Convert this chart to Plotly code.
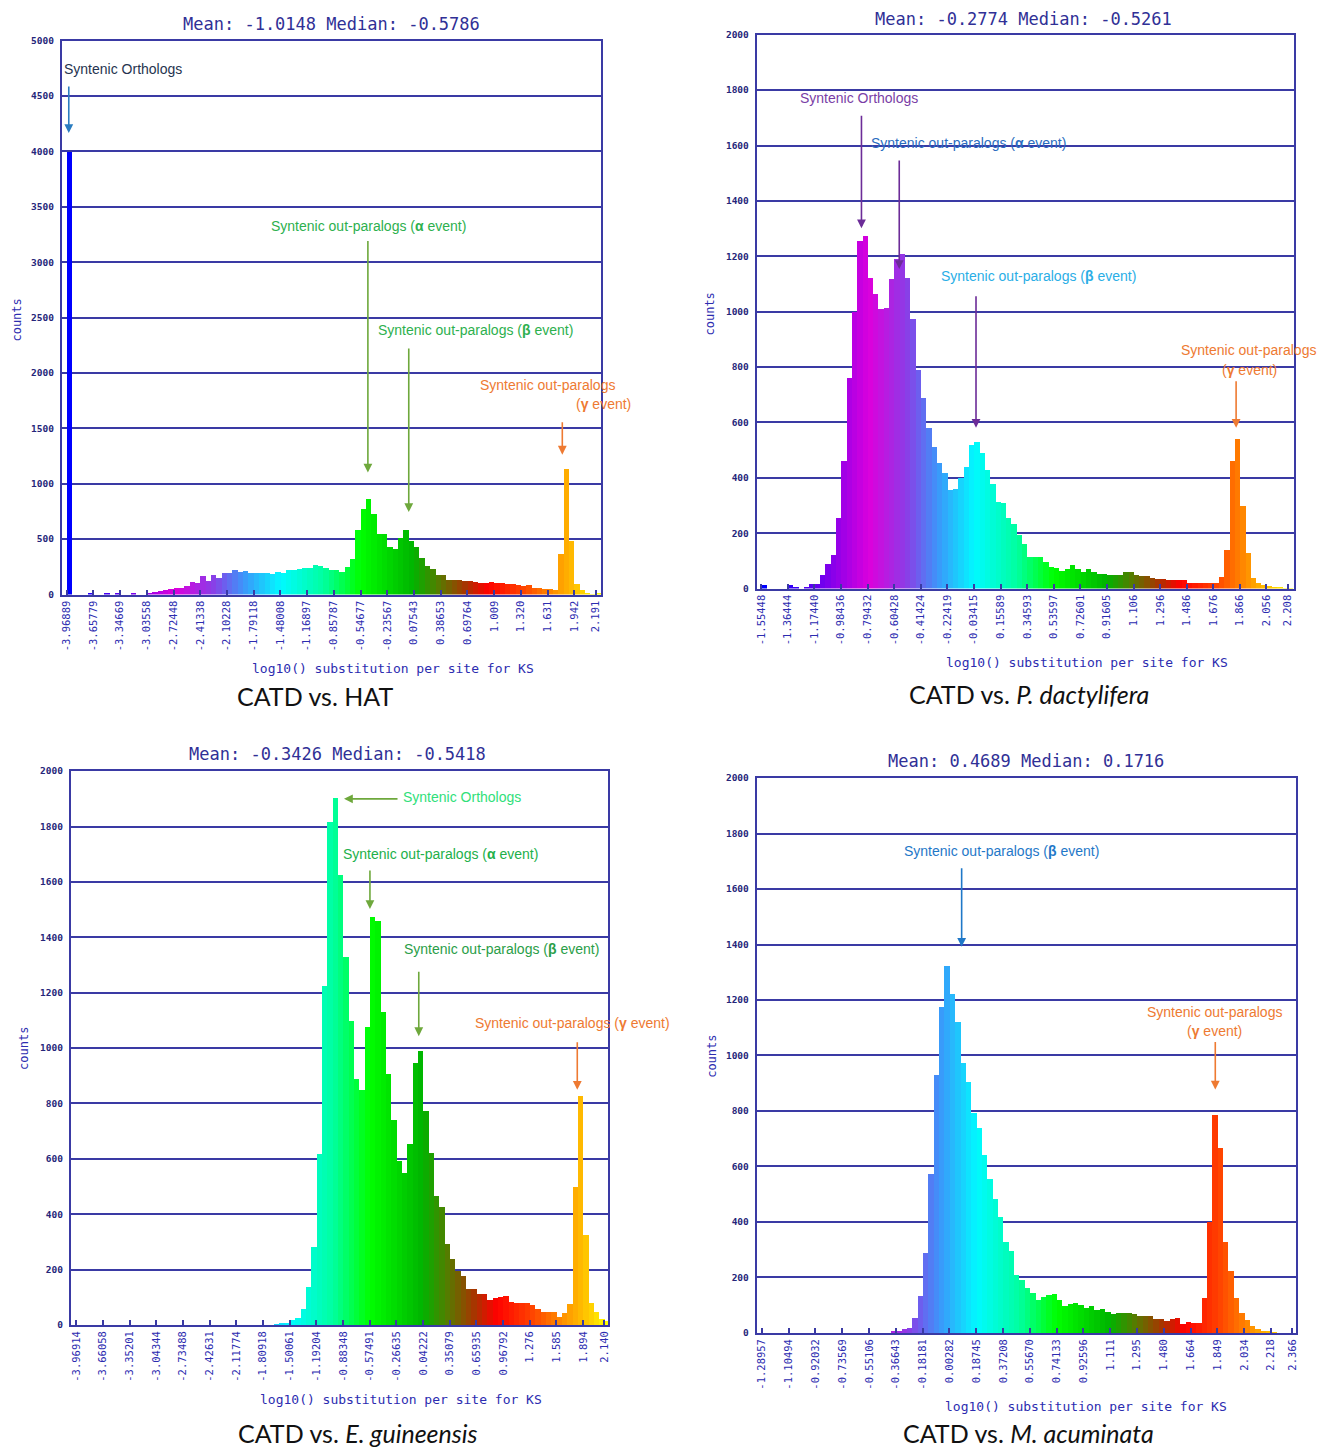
import plotly.graph_objects as go

# ------------------------------------------------------------------ data
ticks_hat = ["-3.96889", "-3.65779", "-3.34669", "-3.03558", "-2.72448", "-2.41338", "-2.10228",
             "-1.79118", "-1.48008", "-1.16897", "-0.85787", "-0.54677", "-0.23567", "0.07543",
             "0.38653", "0.69764", "1.009", "1.320", "1.631", "1.942", "2.191"]
counts_hat = [4000, 0, 0, 0, 10, 0, 0, 8, 0, 8,
              0, 0, 8, 0, 0, 15, 25, 35, 45, 50,
              59, 65, 80, 115, 110, 172, 125, 180, 155, 193,
              200, 228, 205, 215, 200, 199, 199, 195, 184, 205,
              195, 228, 228, 237, 243, 246, 273, 258, 243, 223,
              223, 210, 255, 325, 585, 778, 866, 727, 549, 549,
              430, 415, 513, 585, 490, 430, 332, 261, 231, 178,
              178, 134, 134, 134, 128, 120, 113, 110, 110, 118,
              105, 110, 100, 95, 89, 80, 85, 65, 62, 50,
              50, 40, 370, 1140, 490, 100, 39, 10, 2, 12]

ticks_pd = ["-1.55448", "-1.36444", "-1.17440", "-0.98436", "-0.79432", "-0.60428", "-0.41424",
            "-0.22419", "-0.03415", "0.15589", "0.34593", "0.53597", "0.72601", "0.91605",
            "1.106", "1.296", "1.486", "1.676", "1.866", "2.056", "2.208"]
counts_pd = [12, 0, 0, 0, 0, 12, 4, 0, 4, 17,
             17, 51, 90, 123, 257, 460, 760, 1000, 1256, 1275,
             1121, 1064, 1012, 1015, 1117, 1192, 1209, 1121, 974, 791,
             688, 579, 513, 454, 418, 355, 360, 400, 440, 520,
             530, 490, 430, 380, 315, 310, 255, 235, 195, 160,
             115, 115, 115, 95, 80, 75, 65, 70, 85, 70,
             60, 70, 60, 55, 55, 50, 50, 50, 60, 60,
             50, 45, 45, 40, 35, 35, 30, 30, 30, 30,
             20, 20, 20, 20, 20, 20, 42, 141, 460, 540,
             300, 131, 38, 21, 14, 10, 6, 3, 1, 1]

ticks_eg = ["-3.96914", "-3.66058", "-3.35201", "-3.04344", "-2.73488", "-2.42631", "-2.11774",
            "-1.80918", "-1.50061", "-1.19204", "-0.88348", "-0.57491", "-0.26635", "0.04222",
            "0.35079", "0.65935", "0.96792", "1.276", "1.585", "1.894", "2.140"]
counts_eg = [0, 0, 0, 0, 0, 0, 0, 0, 0, 0,
             0, 0, 0, 0, 0, 0, 0, 0, 0, 0,
             0, 0, 0, 0, 0, 0, 0, 0, 0, 0,
             0, 0, 0, 0, 0, 0, 0, 2, 3, 8,
             18, 23, 56, 137, 280, 615, 1225, 1817, 1904, 1623,
             1327, 1098, 886, 849, 1075, 1474, 1460, 1130, 904, 740,
             592, 549, 653, 947, 988, 772, 622, 466, 424, 290,
             239, 194, 175, 128, 128, 111, 111, 88, 96, 101,
             105, 83, 77, 78, 78, 70, 56, 47, 45, 45,
             28, 41, 75, 496, 826, 325, 79, 47, 22, 15]

ticks_ma = ["-1.28957", "-1.10494", "-0.92032", "-0.73569", "-0.55106", "-0.36643", "-0.18181",
            "0.00282", "0.18745", "0.37208", "0.55670", "0.74133", "0.92596", "1.111",
            "1.295", "1.480", "1.664", "1.849", "2.034", "2.218", "2.366"]
counts_ma = [0, 0, 0, 0, 0, 0, 0, 0, 0, 0,
             0, 0, 0, 0, 0, 0, 0, 0, 0, 0,
             0, 0, 0, 0, 5, 8, 12, 16, 54, 134,
             289, 573, 929, 1173, 1323, 1221, 1120, 971, 905, 794,
             737, 641, 553, 484, 416, 328, 293, 209, 191, 161,
             143, 117, 129, 137, 140, 119, 98, 105, 107, 101,
             90, 95, 81, 86, 75, 69, 72, 72, 70, 66,
             62, 60, 60, 51, 48, 44, 50, 54, 32, 38,
             36, 36, 125, 400, 784, 665, 328, 221, 125, 72,
             45, 25, 12, 6, 3, 2, 0, 0, 0, 0]

titles = ["Mean: -1.0148 Median: -0.5786", "Mean: -0.2774 Median: -0.5261",
          "Mean: -0.3426 Median: -0.5418", "Mean: 0.4689 Median: 0.1716"]
captions = ["CATD vs. HAT", "CATD vs. <i>P. dactylifera</i>",
            "CATD vs. <i>E. guineensis</i>", "CATD vs. <i>M. acuminata</i>"]

# ------------------------------------------------------------------ styling
W, H = 1327, 1453
FRAME = "#3a3aa4"
MONO = "DejaVu Sans Mono, Liberation Mono, monospace"
NARROW = "Liberation Sans Narrow, Arial Narrow, Liberation Sans, sans-serif"

STOPS = [(0.00, (0, 0, 255)), (0.10, (100, 0, 240)), (0.20, (220, 0, 220)),
         (0.27, (140, 60, 230)), (0.33, (60, 150, 250)), (0.40, (0, 250, 255)),
         (0.48, (0, 255, 160)), (0.55, (0, 255, 0)), (0.65, (0, 180, 0)),
         (0.70, (90, 120, 0)), (0.75, (170, 50, 0)), (0.79, (255, 0, 0)),
         (0.86, (255, 70, 0)), (0.92, (255, 150, 0)), (0.97, (255, 210, 0)),
         (1.00, (255, 255, 0))]


def cmap(t):
    for (a, ca), (b, cb) in zip(STOPS[:-1], STOPS[1:]):
        if a <= t <= b:
            f = (t - a) / (b - a)
            c = [round(ca[k] + f * (cb[k] - ca[k])) for k in range(3)]
            return "rgb(%d,%d,%d)" % tuple(c)
    return "rgb(255,255,0)"


def px(x):
    return x / W


def py(y):
    return 1 - y / H


# panel frames in pixels: (left, right, top, bottom)
frames = [(60, 601, 35, 593), (757, 1296, 29, 587), (69, 608, 771, 1329), (757, 1298, 778, 1337)]
xranges = [(-4.025, 2.2557), (-1.5864, 2.2533), (-4.0341, 2.1833), (-1.3253, 2.3907)]
ymaxs = [5000, 2000, 2000, 2000]
ysteps = [500, 200, 200, 200]

panels = [(ticks_hat, counts_hat), (ticks_pd, counts_pd), (ticks_eg, counts_eg), (ticks_ma, counts_ma)]

fig = go.Figure()
layout = dict(width=W, height=H, margin=dict(l=0, r=0, t=0, b=0),
              paper_bgcolor="white", plot_bgcolor="white", showlegend=False,
              bargap=0)

for k, (ticks, counts) in enumerate(panels):
    tv = [float(t) for t in ticks]
    xmin = tv[0]
    w = (tv[1] - tv[0]) / 5.0
    n = len(counts)
    xs = [xmin + (i + 0.5) * w for i in range(n)]
    cols = [cmap(i / (n - 1)) for i in range(n)]
    sfx = "" if k == 0 else str(k + 1)
    fig.add_trace(go.Bar(x=xs, y=counts, width=[w] * n,
                         marker=dict(color=cols, line=dict(width=0)),
                         xaxis="x" + sfx, yaxis="y" + sfx, hoverinfo="skip"))
    l, r, t, b = frames[k]
    layout["xaxis" + sfx] = dict(
        domain=[px(l), px(r)], anchor="y" + sfx, range=list(xranges[k]),
        tickmode="array", tickvals=tv, ticktext=ticks, tickangle=-90,
        tickfont=dict(family=MONO, size=10.5, color="#2c2cb0"),
        ticks="inside", ticklen=5, tickcolor=FRAME, tickwidth=1.5,
        showline=True, linecolor=FRAME, linewidth=2, mirror=True,
        showgrid=False, zeroline=False, fixedrange=True)
    layout["yaxis" + sfx] = dict(
        domain=[py(b), py(t)], anchor="x" + sfx, range=[0, ymaxs[k]],
        tickmode="linear", tick0=0, dtick=ysteps[k],
        tickfont=dict(family=MONO, size=9.5, color="#26267a", weight="bold"),
        ticks="", ticklabelstandoff=4,
        showline=True, linecolor=FRAME, linewidth=2, mirror=True,
        showgrid=True, gridcolor=FRAME, gridwidth=1.5, zeroline=False, fixedrange=True)

ann = []


def ptext(text, x, y, font, xanchor="center", angle=0):
    ann.append(dict(text=text, x=px(x), y=py(y), xref="paper", yref="paper", showarrow=False,
                    xanchor=xanchor, yanchor="middle", textangle=angle, font=font))


# titles, axis labels, captions
title_pos = [(330, 18), (1025, 13), (337, 754), (1027, 761)]
xlab_pos = [(392, 668), (1088, 662), (400, 1404), (1087, 1411)]
ylab_pos = [(15, 316), (710, 310), (22, 1050), (712, 1058)]
cap_pos = [(314, 695), (1030, 693), (357, 1438), (1030, 1438)]
for k in range(4):
    ptext(titles[k], *title_pos[k], dict(family=MONO, size=17, color="#303096"))
    ptext("log10() substitution per site for KS", *xlab_pos[k], dict(family=MONO, size=13, color="#2c2cb0"))
    ptext("counts", *ylab_pos[k], dict(family=MONO, size=12, color="#2c2cb0"), angle=-90)
    ptext(captions[k], *cap_pos[k], dict(family="Lato, Noto Sans, sans-serif", size=25, color="#111111"))

GREEN_T = "#2db04e"
GREEN_A = "#6ea83c"
ORANGE = "#ee7a32"
a_txt = "Syntenic out-paralogs (<b>α</b> event)"
b_txt = "Syntenic out-paralogs (<b>β</b> event)"


def label(text, x, y, color, xanchor="center"):
    ptext(text, x, y, dict(family=NARROW, size=14, color=color), xanchor=xanchor)


def arrow(sfx, x, y, ax, ay, color):
    ann.append(dict(text="", x=x, y=y, xref="x" + sfx, yref="y" + sfx, ax=ax, ay=ay,
                    showarrow=True, arrowhead=2, arrowsize=1.1, arrowwidth=1.6, arrowcolor=color))


# panel 1
label("Syntenic Orthologs", 60, 63, "#26344f", "left")
arrow("", -3.944, 4167, 0, -48, "#2a7cc0")
label(a_txt, 368, 222, GREEN_T)
arrow("", -0.461, 1102, 0, -233, GREEN_A)
label(b_txt, 475, 326, GREEN_T)
arrow("", 0.015, 744, 0, -165, GREEN_A)
label("Syntenic out-paralogs", 547, 382, ORANGE)
label("(<b>γ</b> event)", 603, 401, ORANGE)
arrow("", 1.803, 1263, 0, -34, ORANGE)

# panel 2
PURPLE = "#6c2c98"
label("Syntenic Orthologs", 860, 93, "#7a3ea6")
arrow("2", -0.838, 1301, 0, -114, PURPLE)
label(a_txt, 969, 138, "#2a6cc0")
arrow("2", -0.568, 1154, 0, -110, PURPLE)
label(b_txt, 1040, 272, "#2aaee6")
arrow("2", -0.0195, 581, 0, -133, PURPLE)
label("Syntenic out-paralogs", 1250, 347, ORANGE)
label("(<b>γ</b> event)", 1251, 367, ORANGE)
arrow("2", 1.839, 581, 0, -48, ORANGE)

# panel 3
label("Syntenic Orthologs", 400, 797, "#30e07a", "left")
arrow("3", -0.873, 1900, 55, 0, GREEN_A)
label(a_txt, 440, 854, "#22b04a")
arrow("3", -0.573, 1502, 0, -40, GREEN_A)
label(b_txt, 501, 950, "#2a9e48")
arrow("3", -0.008, 1043, 0, -66, GREEN_A)
label("Syntenic out-paralogs (<b>γ</b> event)", 572, 1025, ORANGE)
arrow("3", 1.826, 849, 0, -49, ORANGE)

# panel 4
label(b_txt, 1003, 851, "#1f78c8")
arrow("4", 0.0866, 1392, 0, -80, "#1f78c8")
label("Syntenic out-paralogs", 1216, 1014, ORANGE)
label("(<b>γ</b> event)", 1216, 1033, ORANGE)
arrow("4", 1.834, 877, 0, -49, ORANGE)

layout["annotations"] = ann
fig.update_layout(**layout)
fig.write_html("out.html")
